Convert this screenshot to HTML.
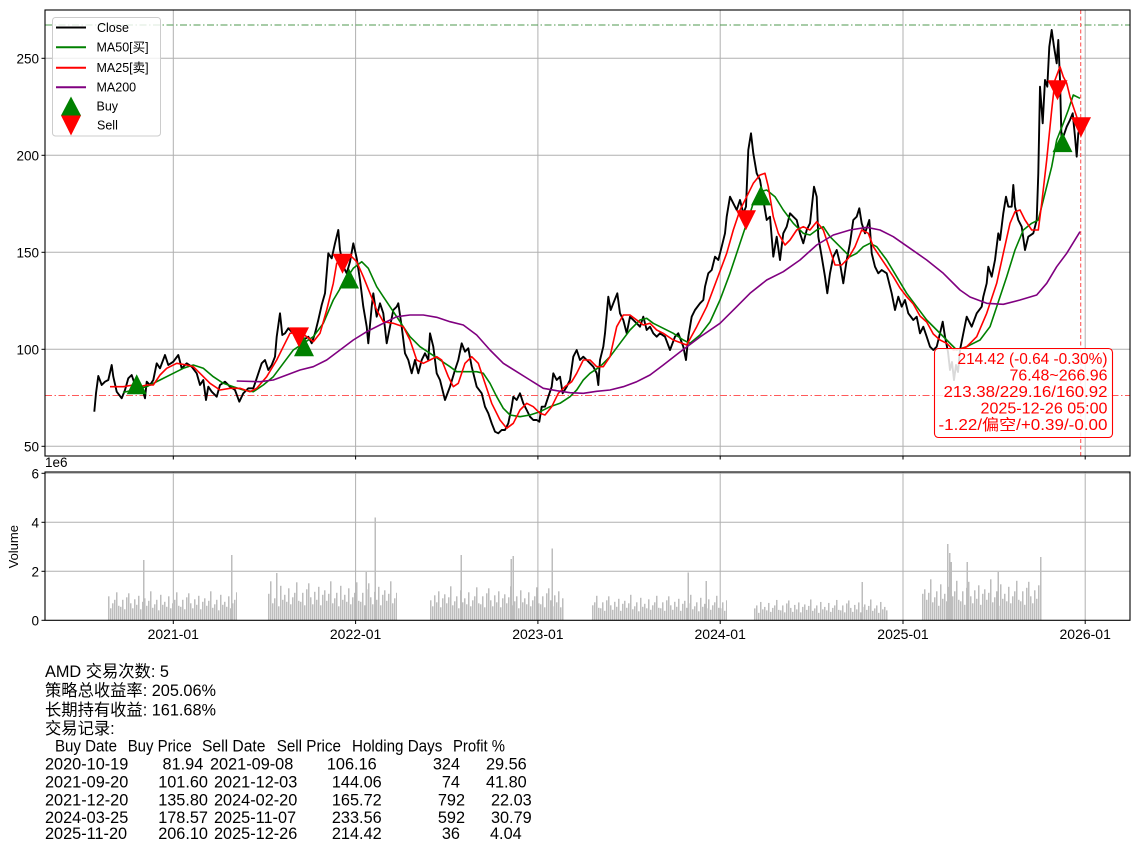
<!DOCTYPE html>
<html><head><meta charset="utf-8"><style>
html,body{margin:0;padding:0;background:#fff;}
svg{display:block;}
text{font-family:"Liberation Sans","Noto Sans CJK SC",sans-serif;fill:#000;}
</style></head><body>
<svg width="1139" height="852" viewBox="0 0 1139 852" xmlns="http://www.w3.org/2000/svg">
<defs>
<clipPath id="cm"><rect x="45" y="10" width="1085" height="446"/></clipPath>
<clipPath id="cv"><rect x="45" y="472" width="1085" height="148.3"/></clipPath>
<pattern id="vp" patternUnits="userSpaceOnUse" x="0" y="540" width="60" height="80">
<g fill="#bdbdbd" shape-rendering="crispEdges">
<rect x="0" y="64" width="1.5" height="16"/><rect x="2" y="56" width="1.5" height="24"/><rect x="4" y="67" width="1.5" height="13"/><rect x="6" y="53" width="1.5" height="27"/><rect x="8" y="48" width="1.5" height="32"/><rect x="10" y="60" width="1.5" height="20"/><rect x="12" y="66" width="1.5" height="14"/><rect x="14" y="55" width="1.5" height="25"/><rect x="16" y="62" width="1.5" height="18"/><rect x="18" y="51" width="1.5" height="29"/><rect x="20" y="67" width="1.5" height="13"/><rect x="22" y="58" width="1.5" height="22"/><rect x="24" y="54" width="1.5" height="26"/><rect x="26" y="63" width="1.5" height="17"/><rect x="28" y="57" width="1.5" height="23"/><rect x="30" y="46" width="1.5" height="34"/><rect x="32" y="65" width="1.5" height="15"/><rect x="34" y="61" width="1.5" height="19"/><rect x="36" y="56" width="1.5" height="24"/><rect x="38" y="68" width="1.5" height="12"/><rect x="40" y="50" width="1.5" height="30"/><rect x="42" y="62" width="1.5" height="18"/><rect x="44" y="58" width="1.5" height="22"/><rect x="46" y="64" width="1.5" height="16"/><rect x="48" y="52" width="1.5" height="28"/><rect x="50" y="66" width="1.5" height="14"/><rect x="52" y="60" width="1.5" height="20"/><rect x="54" y="56" width="1.5" height="24"/><rect x="56" y="47" width="1.5" height="33"/><rect x="58" y="63" width="1.5" height="17"/>
</g></pattern>
</defs>

<!-- ===== MAIN AXES ===== -->
<g stroke="#b0b0b0" stroke-width="1" fill="none">
<line x1="173.3" y1="10" x2="173.3" y2="456"/><line x1="355.6" y1="10" x2="355.6" y2="456"/><line x1="537.9" y1="10" x2="537.9" y2="456"/><line x1="720.2" y1="10" x2="720.2" y2="456"/><line x1="903" y1="10" x2="903" y2="456"/><line x1="1085.2" y1="10" x2="1085.2" y2="456"/>
<line x1="45" y1="446.3" x2="1130" y2="446.3"/><line x1="45" y1="349.3" x2="1130" y2="349.3"/><line x1="45" y1="252.3" x2="1130" y2="252.3"/><line x1="45" y1="155.3" x2="1130" y2="155.3"/><line x1="45" y1="58.3" x2="1130" y2="58.3"/>
</g>
<g clip-path="url(#cm)" fill="none">
<line x1="45" y1="25" x2="1130" y2="25" stroke="#4f9a4f" stroke-width="1.1" stroke-dasharray="7 2.5 1.5 2.5"/>
<line x1="45" y1="395.5" x2="1130" y2="395.5" stroke="#ff5a5a" stroke-width="1.1" stroke-dasharray="7 2.5 1.5 2.5"/>
<line x1="1080.7" y1="10" x2="1080.7" y2="456" stroke="#ff5a5a" stroke-width="1.1" stroke-dasharray="4 2.5"/>
<polyline stroke="#000" stroke-width="1.9" stroke-linejoin="round" points="94.3,411.7 96,393.3 98.3,376 101.7,385 105,381.7 108.3,380 111.7,365 113.3,376.7 116.7,391.7 121.7,398.3 125,390 128.3,378.3 131.7,375 135,385 138.3,390 141.7,386.7 145,398.3 146.7,381.7 150,385 153.3,380 156.7,363.3 160,368.3 165,355 168.3,365 173.3,361.7 178.3,355 181.7,368.3 186.7,363.3 191.7,366.7 196.7,373.3 200,385 203.3,380 206,400 208.3,386.7 211.7,391.7 216.7,396.7 220,385 225,381.7 230,386.7 235,390 239.3,401.7 243.3,393.3 248.3,388.3 253.3,388.3 256.7,378.3 261.7,363.3 265,360 268.3,370 271.7,365 275,356.7 276.7,336.7 280,313.3 282.3,335 285,333.3 288.3,328.3 293.3,333.3 298.3,331.7 303.3,340 308.3,336.7 311.7,343.3 315,333.3 318.3,320 321.7,305 325,293.3 328.3,253.3 331.7,258.3 335,243.3 338.3,230 340,250 343.3,266.7 346.7,273.3 350,261.7 353.3,243.3 356.7,258.3 360,280 363.3,306.7 366.7,326.7 368.3,343.3 371.7,306.7 373.3,293.3 376.7,316.7 380,303.3 383.3,313.3 386.7,343.3 390,326.7 393.3,310 396.7,306.7 398.3,303.3 401.7,326.7 405,353.3 408.3,360 411.7,373.3 415,360 418.3,373.3 421.7,360 425,353.3 428.3,360 430,333.3 433.3,346.7 436.7,373.3 440,380 445,400 450,386.7 455,370 458.3,360 461.7,343.3 465,351.7 468.3,348.3 471.7,366.7 476.7,386.7 481.7,393.3 485,406.7 488.3,413.3 491.7,423.3 495,431.7 498.3,433.3 501.7,430 505,430 508.3,423.3 511.7,406.7 513.3,396.7 516.7,400 520,393.3 523.3,403.3 526.7,410 530,416.7 533.3,420 536.7,420 539.3,421.7 541.7,406.7 545,406.7 548.3,396.7 551.7,386.7 553.3,373.3 556.7,380 560,376.7 562.7,393.3 566.7,386.7 570,380 573.3,356.7 576.7,350 580,360 583.3,356.7 586.7,360 590,363.3 593.3,366.7 596.7,373.3 598.3,385 600,360 603.3,346.7 605,333.3 608.3,296.7 610.7,310 613.3,303.3 617.3,293.3 620,313.3 623.3,320 626.7,333.3 630,316.7 633.3,320 636.7,323.3 640,326.7 643.3,316.7 646.7,330 650,326.7 653.3,333.3 656.7,336.7 660,333.3 665,336.7 670,350 675,336.7 678.3,333.3 683.3,346.7 686,360 688.3,336.7 691.7,316.7 695,310 700,303.3 703.3,300 705,286.7 708.3,273.3 711.7,270 715,256.7 718.3,260 721.7,246.7 725,233.3 726.7,216.7 730,196.7 733.3,203.3 736.7,210 740,200 743.3,213.3 746,206.7 748.3,150 751,133.3 753.3,153.3 756.7,173.3 760,180 763.3,200 766.7,220 770,216.7 773.3,256.7 776.7,236.7 780,260 783.3,233.3 786.7,226.7 790,213.3 793.3,216.7 796.7,220 800,233.3 803.3,243.3 806.7,230 810,223.3 814,186.7 816.7,196.7 818.3,236.7 821.7,256.7 825,276.7 827.3,293.3 830,273.3 833.3,256.7 836.7,250 840,263.3 843.3,283.3 846.7,260 850,243.3 853.3,220 856.7,216.7 859.3,208.3 861.7,223.3 865,233.3 869.3,220 871.7,253.3 875,266.7 878.3,273.3 881.7,270 886.7,273.3 891.7,293.3 895,310 898.3,296.7 901.7,306.7 905,300 908.3,313.3 913.3,320 916.7,316.7 920,333.3 923.3,326.7 926.7,336.7 930,346.7 933.3,350 936.7,346.7 940,333.3 942.7,321.7 945,336.7 948,352 950,370 952,362 954,380 956,365 958,372 960,350 963,335 966.7,316.7 971.7,326.7 976.7,313.3 981.7,306.7 983.3,296.7 986.7,283.3 988.3,266.7 991.7,276.7 995,260 998.3,233.3 1000,240 1003.3,213.3 1006,196.7 1008.3,206.7 1011.7,206.7 1013.3,185 1015,206.7 1018.3,220 1021.7,226.7 1025,250 1028.3,236.7 1033.3,233.3 1036.7,220 1038.3,173.3 1040,86.7 1042.7,123.3 1045,80 1047.3,86.7 1049.3,46.7 1051.7,30 1054,46.7 1056.7,63.3 1058.3,40 1060,80 1061.7,146.7 1063.3,136.7 1066.7,126.7 1070,120 1072.7,113.3 1075,136.7 1076.7,156.7 1078.3,133.3 1080,127.3"/>
<polyline stroke="#008000" stroke-width="1.6" stroke-linejoin="round" points="123,392.5 133.3,390 146.7,386.7 160,380 173.3,373.3 183.3,368.3 193.3,365 203.3,368.3 213.3,376.7 223.3,383.3 233.3,386.7 243.3,390 253.3,391.7 263.3,385 273.3,376.7 283.3,363.3 293.3,350 303.3,343.3 313.3,336.7 323.3,323.3 333.3,300 343.3,283.3 353.3,268.3 361.7,261.7 368.3,268.3 376.7,286.7 383.3,296.7 390,306.7 396.7,316.7 403.3,326.7 410,336.7 420,346.7 430,353.3 440,360 450,366.7 456.7,371.7 466.7,371.7 476.7,371.7 483.3,373.3 490,383.3 496.7,396.7 503.3,408.3 510,415 520,416.7 530,415 540,411.7 550,406.7 560,403.3 570,396.7 576.7,390 583.3,380 590,373.3 600,366.7 610,356.7 620,343.3 630,330 640,320 646.7,318.3 653.3,323.3 663.3,328.3 673.3,333.3 683.3,340 690,343.3 700,335 710,322 720,300 730,273.3 740,243.3 746.7,223.3 753.3,203.3 760,191.7 766.7,190 775,196.7 783.3,210 793.3,223.3 803.3,233.3 810,235 816.7,230 823.3,226.7 830,236.7 840,246.7 850,256.7 856.7,253.3 863.3,246.7 870,243.3 876.7,246.7 886.7,260 896.7,276.7 906.7,293.3 916.7,306.7 926.7,320 936.7,330 946.7,340 956.7,350 966.7,346.7 980,340 990,326.7 996.7,306.7 1006.7,276.7 1015,250 1023.3,230 1031.7,223.3 1038.3,220 1045,193.3 1051.7,166.7 1056.7,140 1063.3,123.3 1068.3,110 1073.3,95 1080,98.3"/>
<polyline stroke="#ff0000" stroke-width="1.6" stroke-linejoin="round" points="110,386.7 123.3,386.7 133.3,385 140,386.7 146.7,385 153.3,385 160,375 166.7,368.3 176.7,363.3 186.7,365 193.3,366.7 200,373.3 210,383.3 220,390 230,388.3 240,388.3 250,391.7 256.7,388.3 266.7,376.7 276.7,360 283.3,346.7 290,333.3 300,331.7 313.3,341.7 320,333.3 326.7,310 333.3,283.3 336.7,263.3 343.3,258.3 351.7,256.7 356.7,261.7 363.3,276.7 370,293.3 376.7,310 383.3,321.7 393.3,323.3 403.3,326.7 410,340 416.7,360 423.3,363.3 430,360 436.7,356.7 441.7,360 448.3,376.7 453.3,386.7 458.3,383.3 465,363.3 471.7,356.7 478.3,363.3 485,383.3 491.7,403.3 500,420 506.7,428.3 513.3,423.3 520,410 526.7,403.3 533.3,406.7 540,413.3 545,415 551.7,406.7 558.3,393.3 565,386.7 571.7,381.7 576.7,373.3 583.3,360 590,360 596.7,366.7 603.3,366.7 610,356.7 616.7,326.7 623.3,315 630,315 636.7,320 643.3,325 650,323.3 656.7,330 663.3,333.3 673.3,340 686.7,345 696.7,326.7 706.7,306.7 716.7,280 726.7,253.3 733.3,230 740,210 746.7,196.7 753.3,183.3 760,175 765,173.3 768.3,186.7 773.3,216.7 778.3,233.3 785,245 790,240 796.7,230 803.3,226.7 810,230 816.7,221.7 823.3,230 830,250 835,265 841.7,265 848.3,258.3 855,246.7 861.7,230 868.3,233.3 873.3,246.7 880,256.7 886.7,266.7 893.3,276.7 900,288 906.7,296.7 913.3,304 920,316 926.7,322 933.3,334 940,340 946.7,343.3 953.3,350 960,349 966.7,346.7 976.7,336.7 986.7,313.3 996.7,283.3 1003.3,253.3 1010,223.3 1015,211.7 1020,210 1025,220 1031.7,230 1038.3,230 1041.7,203.3 1046.7,160 1051.7,110 1055,80 1060,66.7 1063.3,76.7 1066.7,83.3 1070,96.7 1073.3,106.7 1076.7,116.7 1080,126.7"/>
<polyline stroke="#800080" stroke-width="1.6" stroke-linejoin="round" points="236.7,381 260,381.7 273.3,380 286.7,375 300,370 313.3,366.7 326.7,360 340,350 353.3,340 366.7,331.7 383.3,323.3 396.7,316.7 410,315 423.3,315 436.7,317.3 450,321.7 463.3,325 476.7,335 490,350 503.3,363.3 516.7,371.7 530,380 543.3,388.3 556.7,390.7 570,392.7 583.3,393.3 596.7,391.3 610,390 623.3,386.7 636.7,381.7 650,375 663.3,365 680,352 700,337 720,323.3 736.7,306.7 750,293.3 766.7,280 783.3,271.7 800,260 816.7,245 833.3,235 850,230 866.7,227.3 880,230 893.3,236.7 910,248.3 926.7,260 943.3,273.3 960,290 970,297 986.7,303.3 1003.3,304.3 1020,300 1036.7,295 1046.7,283.3 1056.7,266.7 1066.7,253.3 1080,231.7"/>
<g fill="#008000">
<polygon points="136.7,374.3 126.7,394.3 146.7,394.3"/>
<polygon points="304,336.2 294,356.2 314,356.2"/>
<polygon points="349,268.5 339,288.5 359,288.5"/>
<polygon points="761,185.4 751,205.4 771,205.4"/>
<polygon points="1062.5,132.1 1052.5,152.1 1072.5,152.1"/>
</g>
<g fill="#ff0000">
<polygon points="289,327.4 309,327.4 299,347.4"/>
<polygon points="332.5,253.8 352.5,253.8 342.5,273.8"/>
<polygon points="736,210.3 756,210.3 746,230.3"/>
<polygon points="1047.5,80.2 1067.5,80.2 1057.5,100.2"/>
<polygon points="1071,117.3 1091,117.3 1081,137.3"/>
</g>
</g>
<rect x="45" y="10" width="1085" height="446" fill="none" stroke="#000" stroke-width="1.1"/>
<g stroke="#000" stroke-width="1">
<line x1="41.5" y1="446.3" x2="45" y2="446.3"/><line x1="41.5" y1="349.3" x2="45" y2="349.3"/><line x1="41.5" y1="252.3" x2="45" y2="252.3"/><line x1="41.5" y1="155.3" x2="45" y2="155.3"/><line x1="41.5" y1="58.3" x2="45" y2="58.3"/>
<line x1="173.3" y1="456" x2="173.3" y2="459.5"/><line x1="355.6" y1="456" x2="355.6" y2="459.5"/><line x1="537.9" y1="456" x2="537.9" y2="459.5"/><line x1="720.2" y1="456" x2="720.2" y2="459.5"/><line x1="903" y1="456" x2="903" y2="459.5"/><line x1="1085.2" y1="456" x2="1085.2" y2="459.5"/>
</g>
<g font-size="13.5" text-anchor="end">
<text x="39" y="451.3">50</text><text x="39" y="354.3">100</text><text x="39" y="257.3">150</text><text x="39" y="160.3">200</text><text x="39" y="63.3">250</text>
</g>

<!-- legend -->
<rect x="52.5" y="17.5" width="108" height="118.5" rx="3" fill="#fff" fill-opacity="0.8" stroke="#cccccc" stroke-width="1"/>
<line x1="56" y1="27.5" x2="86" y2="27.5" stroke="#000" stroke-width="2"/>
<line x1="56" y1="47.3" x2="86" y2="47.3" stroke="#008000" stroke-width="2"/>
<line x1="56" y1="67.7" x2="86" y2="67.7" stroke="#ff0000" stroke-width="2"/>
<line x1="56" y1="87.3" x2="86" y2="87.3" stroke="#800080" stroke-width="2"/>
<polygon points="71,96.5 61,115.5 81,115.5" fill="#008000"/>
<polygon points="61,115.5 81,115.5 71,135.5" fill="#ff0000"/>
<g font-size="12.5">
<text x="97" y="31.8">Close</text>
<text x="96.5" y="51.6">MA50[买]</text>
<text x="96.5" y="72">MA25[卖]</text>
<text x="96.5" y="91.6">MA200</text>
<text x="96.5" y="110.5">Buy</text>
<text x="97" y="129.5">Sell</text>
</g>

<!-- tooltip -->
<rect x="934.5" y="348.5" width="178" height="89" rx="4" fill="#fff" fill-opacity="0.85" stroke="#ff0000" stroke-width="1.1"/>
<g font-size="15.5" text-anchor="end">
<text x="1107.5" y="364" textLength="150" lengthAdjust="spacingAndGlyphs" style="fill:#ff0000">214.42 (-0.64 -0.30%)</text>
<text x="1107.5" y="380.5" textLength="98" lengthAdjust="spacingAndGlyphs" style="fill:#ff0000">76.48~266.96</text>
<text x="1107.5" y="397" textLength="164" lengthAdjust="spacingAndGlyphs" style="fill:#ff0000">213.38/229.16/160.92</text>
<text x="1107.5" y="413.5" textLength="127" lengthAdjust="spacingAndGlyphs" style="fill:#ff0000">2025-12-26 05:00</text>
<text x="1107.5" y="430" textLength="169" lengthAdjust="spacingAndGlyphs" style="fill:#ff0000">-1.22/偏空/+0.39/-0.00</text>
</g>

<!-- ===== VOLUME AXES ===== -->
<g stroke="#b0b0b0" stroke-width="1" fill="none">
<line x1="173.3" y1="472" x2="173.3" y2="620.3"/><line x1="355.6" y1="472" x2="355.6" y2="620.3"/><line x1="537.9" y1="472" x2="537.9" y2="620.3"/><line x1="720.2" y1="472" x2="720.2" y2="620.3"/><line x1="903" y1="472" x2="903" y2="620.3"/><line x1="1085.2" y1="472" x2="1085.2" y2="620.3"/>
<line x1="45" y1="571.3" x2="1130" y2="571.3"/><line x1="45" y1="522.3" x2="1130" y2="522.3"/><line x1="45" y1="473.3" x2="1130" y2="473.3"/>
</g>
<g clip-path="url(#cv)">
<g transform="translate(0,620.3) scale(1,0.85) translate(0,-620)"><rect x="108" y="570" width="129" height="50" fill="url(#vp)"/></g>
<g transform="translate(0,620.3) scale(1,1.15) translate(0,-620)"><rect x="268" y="570" width="129" height="50" fill="url(#vp)"/></g>
<g transform="translate(0,620.3) scale(1,1.0) translate(0,-620)"><rect x="430" y="570" width="134" height="50" fill="url(#vp)"/></g>
<g transform="translate(0,620.3) scale(1,0.75) translate(0,-620)"><rect x="592" y="570" width="135" height="50" fill="url(#vp)"/></g>
<g transform="translate(0,620.3) scale(1,0.62) translate(0,-620)"><rect x="754" y="570" width="134" height="50" fill="url(#vp)"/></g>
<g transform="translate(0,620.3) scale(1,1.2) translate(0,-620)"><rect x="922" y="570" width="120" height="50" fill="url(#vp)"/></g>
<g stroke="#bdbdbd" stroke-width="1.5" shape-rendering="crispEdges">
<line x1="143.5" y1="620" x2="143.5" y2="560"/><line x1="231.7" y1="620" x2="231.7" y2="555"/>
<line x1="276.5" y1="620" x2="276.5" y2="573"/><line x1="375.3" y1="620" x2="375.3" y2="517.5"/><line x1="366" y1="620" x2="366" y2="572"/>
<line x1="461.3" y1="620" x2="461.3" y2="555"/><line x1="513.3" y1="620" x2="513.3" y2="556"/><line x1="511.3" y1="620" x2="511.3" y2="559"/><line x1="552.3" y1="620" x2="552.3" y2="548.3"/>
<line x1="688.3" y1="620" x2="688.3" y2="572.7"/><line x1="706.3" y1="620" x2="706.3" y2="581"/>
<line x1="862" y1="620" x2="862" y2="582"/>
<line x1="947.7" y1="620" x2="947.7" y2="544"/><line x1="949.5" y1="620" x2="949.5" y2="553"/><line x1="951.3" y1="620" x2="951.3" y2="562"/><line x1="967.3" y1="620" x2="967.3" y2="562"/><line x1="998.3" y1="620" x2="998.3" y2="572"/><line x1="1040.7" y1="620" x2="1040.7" y2="557"/>
</g>
</g>
<rect x="45" y="472" width="1085" height="148.3" fill="none" stroke="#000" stroke-width="1.1"/>
<g stroke="#000" stroke-width="1">
<line x1="41.5" y1="620.3" x2="45" y2="620.3"/><line x1="41.5" y1="571.3" x2="45" y2="571.3"/><line x1="41.5" y1="522.3" x2="45" y2="522.3"/><line x1="41.5" y1="473.3" x2="45" y2="473.3"/>
<line x1="173.3" y1="620.3" x2="173.3" y2="624"/><line x1="355.6" y1="620.3" x2="355.6" y2="624"/><line x1="537.9" y1="620.3" x2="537.9" y2="624"/><line x1="720.2" y1="620.3" x2="720.2" y2="624"/><line x1="903" y1="620.3" x2="903" y2="624"/><line x1="1085.2" y1="620.3" x2="1085.2" y2="624"/>
</g>
<g font-size="13.5" text-anchor="end">
<text x="39" y="625.3">0</text><text x="39" y="576.3">2</text><text x="39" y="527.3">4</text><text x="39" y="478.3">6</text>
</g>
<text x="45" y="467" font-size="13.5">1e6</text>
<text transform="translate(18,546.7) rotate(-90)" font-size="13" text-anchor="middle">Volume</text>
<g font-size="14" text-anchor="middle">
<text x="173.3" y="639">2021-01</text><text x="355.6" y="639">2022-01</text><text x="537.9" y="639">2023-01</text><text x="720.2" y="639">2024-01</text><text x="903" y="639">2025-01</text><text x="1085.2" y="639">2026-01</text>
</g>

<!-- ===== SUMMARY TEXT ===== -->
<g font-size="16.3">
<text x="45" y="677">AMD 交易次数: 5</text>
<text x="45" y="696">策略总收益率: 205.06%</text>
<text x="45" y="715.7">长期持有收益: 161.68%</text>
<text x="45" y="734">交易记录:</text>
<text x="55" y="751.7" textLength="62" lengthAdjust="spacingAndGlyphs">Buy Date</text><text x="127.7" y="751.7" textLength="64" lengthAdjust="spacingAndGlyphs">Buy Price</text><text x="202" y="751.7" textLength="63.5" lengthAdjust="spacingAndGlyphs">Sell Date</text><text x="276.7" y="751.7" textLength="64.3" lengthAdjust="spacingAndGlyphs">Sell Price</text><text x="352" y="751.7" textLength="90.3" lengthAdjust="spacingAndGlyphs">Holding Days</text><text x="453" y="751.7" textLength="52" lengthAdjust="spacingAndGlyphs">Profit %</text>

<text x="45" y="769.3">2020-10-19</text><text x="210" y="769.3">2021-09-08</text>
<text x="45" y="787.3">2021-09-20</text><text x="214" y="787.3">2021-12-03</text>
<text x="45" y="805.3">2021-12-20</text><text x="214" y="805.3">2024-02-20</text>
<text x="45" y="822.8">2024-03-25</text><text x="214" y="822.8">2025-11-07</text>
<text x="45" y="838.8">2025-11-20</text><text x="214" y="838.8">2025-12-26</text>
<g text-anchor="end">
<text x="203.3" y="769.3">81.94</text><text x="376.7" y="769.3">106.16</text><text x="460" y="769.3">324</text><text x="526.7" y="769.3">29.56</text>
<text x="208" y="787.3">101.60</text><text x="381.7" y="787.3">144.06</text><text x="460" y="787.3">74</text><text x="526.7" y="787.3">41.80</text>
<text x="208" y="805.3">135.80</text><text x="381.7" y="805.3">165.72</text><text x="465" y="805.3">792</text><text x="531.7" y="805.3">22.03</text>
<text x="208" y="822.8">178.57</text><text x="381.7" y="822.8">233.56</text><text x="465" y="822.8">592</text><text x="531.7" y="822.8">30.79</text>
<text x="208" y="838.8">206.10</text><text x="381.7" y="838.8">214.42</text><text x="460" y="838.8">36</text><text x="521.7" y="838.8">4.04</text>
</g>
</g>
</svg>
</body></html>
